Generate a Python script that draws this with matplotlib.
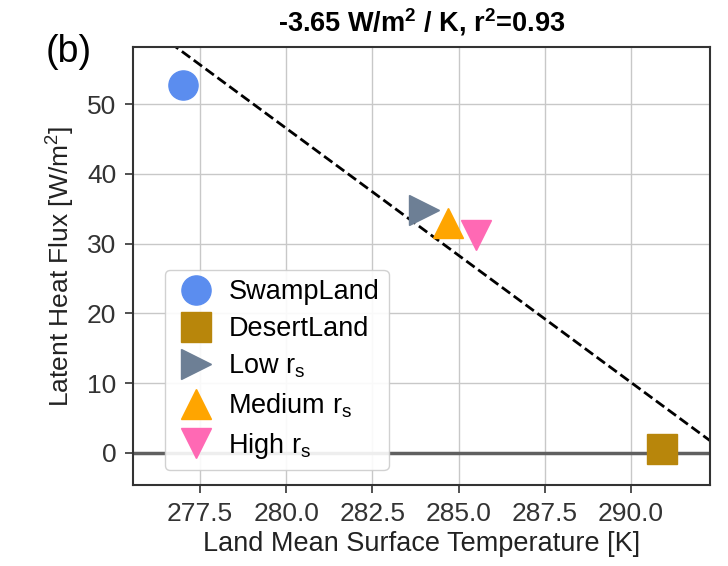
import matplotlib
matplotlib.use("Agg")
import matplotlib.pyplot as plt
import numpy as np

plt.rcParams['font.family'] = ['Liberation Sans', 'DejaVu Sans']

# datos
nombres = ["SwampLand", "DesertLand", "Low r$_\\mathregular{s}$",
           "Medium r$_\\mathregular{s}$", "High r$_\\mathregular{s}$"]
temperatura = [277.0, 290.9, 284.0, 284.7, 285.5]
flujo_latente = [52.7, 0.6, 34.8, 32.9, 31.2]
marcadores = ["o", "s", ">", "^", "v"]
colores = ["#5b8def", "#b8860b", "#6d7f95", "#ffa500", "#ff69b4"]

x_ticks = [277.5, 280.0, 282.5, 285.0, 287.5, 290.0]
y_ticks = [0, 10, 20, 30, 40, 50]

# ajuste lineal
pendiente, intercepto = np.polyfit(temperatura, flujo_latente, 1)

fig = plt.figure(figsize=(7.28, 5.66), dpi=100)
ax = fig.add_axes([0.1827, 0.1431, 0.9753 - 0.1827, 0.917 - 0.1431])

ax.axhline(0, color="#606060", lw=2.5, zorder=1)
x_linea = np.array([270.0, 300.0])
ax.plot(x_linea, pendiente * x_linea + intercepto, "k--", lw=2, zorder=2)

for i in range(len(nombres)):
    ax.plot(temperatura[i], flujo_latente[i], marker=marcadores[i], color=colores[i],
            markersize=21, linestyle="none", label=nombres[i], zorder=3)

ax.set_xlim(275.56, 292.29)
ax.set_ylim(-4.6, 58.2)
ax.set_xticks(x_ticks)
ax.set_yticks(y_ticks)
ax.grid(True, color="#c8c8c8", lw=1)
ax.set_axisbelow(True)
ax.tick_params(labelsize=19, length=6, width=1.2, pad=6, colors="#333333", labelcolor="#333333")
for s in ax.spines.values():
    s.set_color("#333333")
    s.set_linewidth(1.5)

ax.set_xlabel("Land Mean Surface Temperature [K]", fontsize=19.5, color="#222222", labelpad=4)
ax.set_ylabel("Latent Heat Flux [W/m$^\\mathregular{2}$]", fontsize=19, color="#222222", labelpad=8)
ax.set_title("-3.65 W/m$^\\mathregular{2}$ / K, r$^\\mathregular{2}$=0.93", fontsize=19.5,
             fontweight="bold", pad=11)
fig.text(0.063, 0.89, "(b)", fontsize=27)

ax.legend(loc="lower left", bbox_to_anchor=(0.055, 0.034), borderaxespad=0, fontsize=19.5,
          labelspacing=0.4, handletextpad=0.4, borderpad=0.35, handlelength=1.6,
          framealpha=0.9)

plt.savefig("out.png", dpi=100)
